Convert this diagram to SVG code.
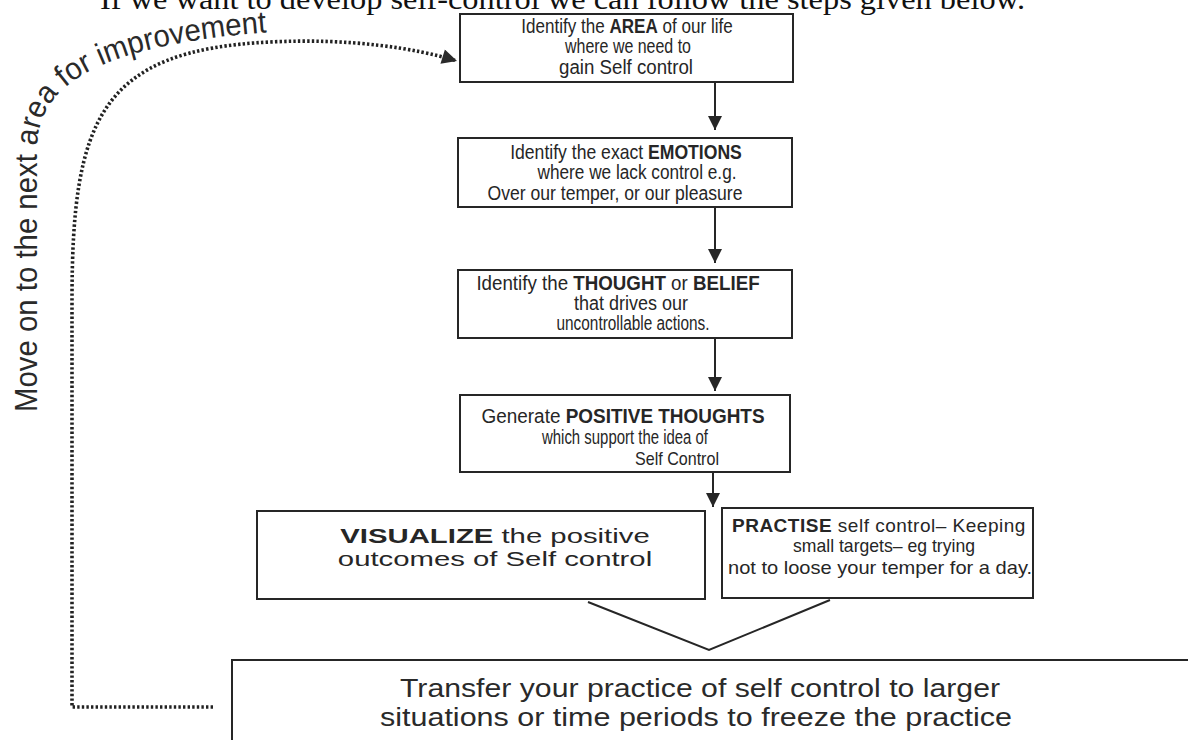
<svg xmlns="http://www.w3.org/2000/svg" width="1188" height="740" viewBox="0 0 1188 740">
  <style>
    .box { fill: #ffffff; stroke: #262626; stroke-width: 2; }
    .t { font-family: "Liberation Sans", Arial, sans-serif; font-size: 20px; fill: #262626; text-anchor: middle; }
    .ts { font-family: "Liberation Sans", Arial, sans-serif; font-size: 19px; fill: #262626; text-anchor: start; }
    .lg { font-size: 20.5px; }
    .b { font-weight: bold; }
    .big { font-family: "Liberation Sans Narrow", "Arial Narrow", "Liberation Sans", sans-serif; font-size: 25px; fill: #2a2a2a; text-anchor: middle; }
    .title { font-family: "Liberation Serif", "Times New Roman", serif; font-size: 30px; fill: #111111; }
    .curve-label { font-family: "Liberation Sans Narrow", "Arial Narrow", "Liberation Sans", sans-serif; font-size: 31px; fill: #2a2a2a; }
    .flow { stroke: #262626; stroke-width: 2; fill: none; }
    .dots { stroke: #222222; stroke-width: 3.6; fill: none; stroke-dasharray: 2.4 2.2; }
  </style>
  <defs>
    <marker id="arrow" viewBox="0 0 10 10" refX="10" refY="5" markerUnits="userSpaceOnUse" markerWidth="15" markerHeight="14" orient="auto">
      <path d="M0,0 L10,5 L0,10 z" fill="#262626"/>
    </marker>
    <marker id="arrowLoop" viewBox="0 0 10 10" refX="10" refY="5" markerUnits="userSpaceOnUse" markerWidth="20" markerHeight="15" orient="auto">
      <path d="M0,0 L10,5 L0,10 z" fill="#2a2a2a"/>
    </marker>
    <path id="loopTextPath" d="M 37 412 L 37 150 C 37 90, 85 42, 300 30"/>
  </defs>

  <rect width="1188" height="740" fill="#ffffff"/>

  <!-- heading line, mostly above the top edge -->
  <text class="title" x="100" y="9" textLength="925" lengthAdjust="spacingAndGlyphs">If we want to develop self-control we can follow the steps given below.</text>

  <!-- connectors -->
  <g id="connectors">
    <line class="flow" x1="715" y1="82" x2="715" y2="130" marker-end="url(#arrow)"/>
    <line class="flow" x1="715" y1="208" x2="715" y2="263" marker-end="url(#arrow)"/>
    <line class="flow" x1="715" y1="339" x2="715" y2="391" marker-end="url(#arrow)"/>
    <line class="flow" x1="713" y1="473" x2="713" y2="507" marker-end="url(#arrow)"/>
    <polyline class="flow" stroke-width="2.5" points="588,602 709,650 830,600"/>
    <path class="dots" d="M 213 707 L 72 707 L 72 300 C 72 120, 100 50, 270 42 C 350 38, 415 48, 457 61" marker-end="url(#arrowLoop)"/>
    <text class="curve-label"><textPath href="#loopTextPath" textLength="545" lengthAdjust="spacingAndGlyphs">Move on to the next area for improvement</textPath></text>
  </g>

  <g id="step-area">
    <rect class="box" x="460" y="14" width="333" height="68"/>
    <text class="t" transform="translate(627 33) scale(0.853 1)">Identify the <tspan class="b">AREA</tspan> of our life</text>
    <text class="t" x="628" y="53" textLength="126" lengthAdjust="spacingAndGlyphs">where we need to</text>
    <text class="t" x="626" y="74" textLength="134" lengthAdjust="spacingAndGlyphs">gain Self control</text>
  </g>

  <g id="step-emotions">
    <rect class="box" x="458" y="138" width="334" height="69"/>
    <text class="t" transform="translate(626 159) scale(0.88 1)">Identify the exact <tspan class="b">EMOTIONS</tspan></text>
    <text class="t" x="637" y="179" textLength="199" lengthAdjust="spacingAndGlyphs">where we lack control e.g.</text>
    <text class="t" x="615" y="200" textLength="255" lengthAdjust="spacingAndGlyphs">Over our temper, or our pleasure</text>
  </g>

  <g id="step-thought">
    <rect class="box" x="458" y="270" width="334" height="68"/>
    <text class="t" transform="translate(618 290) scale(0.937 1)">Identify the <tspan class="b">THOUGHT</tspan> or <tspan class="b">BELIEF</tspan></text>
    <text class="t" x="631" y="310" textLength="114" lengthAdjust="spacingAndGlyphs">that drives our</text>
    <text class="t" x="633" y="330" textLength="153" lengthAdjust="spacingAndGlyphs">uncontrollable actions.</text>
  </g>

  <g id="step-positive">
    <rect class="box" x="460" y="395" width="330" height="77"/>
    <text class="t" transform="translate(623 423) scale(0.947 1)">Generate <tspan class="b">POSITIVE THOUGHTS</tspan></text>
    <text class="t" x="625" y="444" textLength="166" lengthAdjust="spacingAndGlyphs">which support the idea of</text>
    <text class="ts" x="635" y="465" font-size="20" textLength="84" lengthAdjust="spacingAndGlyphs">Self Control</text>
  </g>

  <g id="step-visualize">
    <rect class="box" x="257" y="511" width="448" height="88"/>
    <text class="t lg" transform="translate(495 543) scale(1.43 1)"><tspan class="b">VISUALIZE</tspan> the positive</text>
    <text class="t lg" transform="translate(495 566) scale(1.43 1)">outcomes of Self control</text>
  </g>

  <g id="step-practise">
    <rect class="box" x="722" y="508" width="311" height="90"/>
    <text class="ts" x="732" y="532" letter-spacing="0.5"><tspan class="b">PRACTISE</tspan> self control– Keeping</text>
    <text class="ts" x="793" y="552" textLength="182" lengthAdjust="spacingAndGlyphs">small targets– eg trying</text>
    <text class="ts" x="728" y="574" textLength="304" lengthAdjust="spacingAndGlyphs">not to loose your temper for a day.</text>
  </g>

  <g id="step-transfer">
    <rect class="box" x="232" y="660" width="980" height="110"/>
    <text class="big" x="700" y="697" textLength="600" lengthAdjust="spacingAndGlyphs">Transfer your practice of self control to larger</text>
    <text class="big" x="696" y="726" textLength="632" lengthAdjust="spacingAndGlyphs">situations or time periods to freeze the practice</text>
  </g>
</svg>
